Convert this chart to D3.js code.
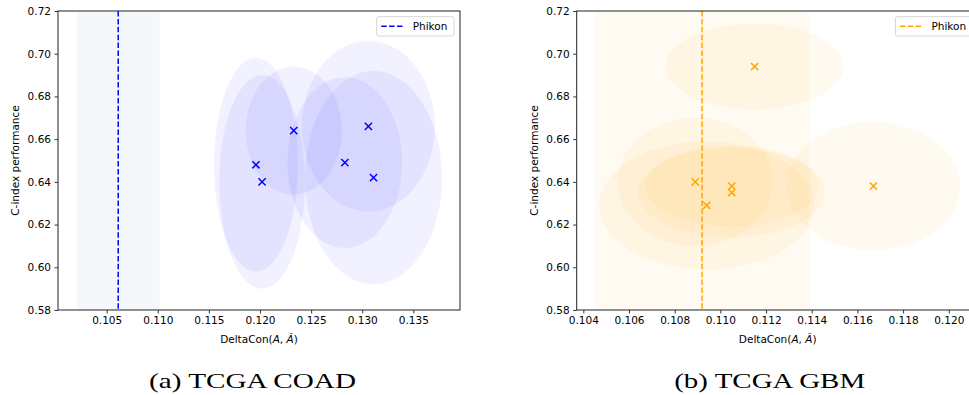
<!DOCTYPE html>
<html>
<head>
<meta charset="utf-8">
<script src="https://cdn.jsdelivr.net/npm/d3@7"></script>
<style>
  body { margin: 0; background: #fff; }
  svg { display: block; }
  .tick text { font-family: "DejaVu Sans", sans-serif; font-size: 10.5px; fill: #000; }
  .lbl { font-family: "DejaVu Sans", sans-serif; font-size: 10.5px; fill: #000; }
  .cap { font-family: "Liberation Serif", serif; font-size: 22px; fill: #000; }
</style>
</head>
<body>
<div id="chart"></div>
<script>
// ---- data ----
const yTicks = [0.58, 0.60, 0.62, 0.64, 0.66, 0.68, 0.70, 0.72];

// (a) TCGA COAD
const coadX    = [0.1196, 0.1202, 0.1233, 0.1283, 0.1306, 0.1311];
const coadY    = [0.648, 0.640, 0.664, 0.649, 0.666, 0.642];
const coadXerr = [0.0041, 0.0042, 0.0047, 0.0056, 0.0065, 0.0067];
const coadYerr = [0.050, 0.050, 0.030, 0.040, 0.040, 0.050];
const coadPhikon = 0.10613, coadPhikonErr = 0.00405;
const coadXTicks = [0.105, 0.110, 0.115, 0.120, 0.125, 0.130, 0.135];

// (b) TCGA GBM
const gbmX    = [0.1115, 0.1089, 0.1105, 0.1105, 0.1167, 0.1094];
const gbmY    = [0.694, 0.640, 0.638, 0.635, 0.638, 0.629];
const gbmXerr = [0.0039, 0.0034, 0.0038, 0.0041, 0.0038, 0.0047];
const gbmYerr = [0.020, 0.030, 0.019, 0.021, 0.030, 0.030];
const gbmPhikon = 0.1092, gbmPhikonErr = 0.0047;
const gbmXTicks = [0.104, 0.106, 0.108, 0.110, 0.112, 0.114, 0.116, 0.118, 0.120];

const W = 969, H = 395;
const svg = d3.select("#chart").append("svg")
    .attr("width", W).attr("height", H);

function panel(o) {
    const top = 11, bottom = 310;
    const x = d3.scaleLinear().domain(o.xdom).range([o.left, o.left + 402]);
    const y = d3.scaleLinear().domain([0.58, 0.72]).range([bottom, top]);
    const g = svg.append("g");

    const clipId = "clip_" + o.id;
    g.append("clipPath").attr("id", clipId)
      .append("rect").attr("x", o.left).attr("y", top).attr("width", 402).attr("height", bottom - top);
    const plot = g.append("g").attr("clip-path", `url(#${clipId})`);

    // phikon std band
    plot.append("rect")
        .attr("x", x(o.phikon - o.phikonErr))
        .attr("y", top)
        .attr("width", x(o.phikon + o.phikonErr) - x(o.phikon - o.phikonErr))
        .attr("height", bottom - top)
        .attr("fill", o.bandColor).attr("fill-opacity", 0.05);

    const pts = o.xs.map((v, i) => ({x: v, y: o.ys[i], ex: o.xerr[i], ey: o.yerr[i]}));

    // std ellipses
    plot.selectAll("ellipse").data(pts).enter().append("ellipse")
        .attr("cx", d => x(d.x)).attr("cy", d => y(d.y))
        .attr("rx", d => x(d.x + d.ex) - x(d.x))
        .attr("ry", d => y(d.y) - y(d.y + d.ey))
        .attr("fill", o.color).attr("fill-opacity", o.ellAlpha);

    // phikon line
    plot.append("line")
        .attr("x1", x(o.phikon)).attr("x2", x(o.phikon))
        .attr("y1", top).attr("y2", bottom)
        .attr("stroke", o.color).attr("stroke-width", 1.5)
        .attr("stroke-dasharray", "5.5,2.4");

    // x markers
    const s = 3.6;
    plot.selectAll(".pt").data(pts).enter().append("path")
        .attr("class", "pt")
        .attr("d", d => {
            const cx = x(d.x), cy = y(d.y);
            return `M${cx - s},${cy - s}L${cx + s},${cy + s}M${cx - s},${cy + s}L${cx + s},${cy - s}`;
        })
        .attr("stroke", o.color).attr("stroke-width", 1.5).attr("fill", "none");

    // axes
    g.append("g").attr("transform", `translate(0,${bottom})`)
        .call(d3.axisBottom(x).tickValues(o.xticks).tickFormat(d3.format(".3f")).tickSizeOuter(0).tickSize(3.5).tickPadding(3.5))
        .call(a => a.select(".domain").remove());
    g.append("g").attr("transform", `translate(${o.left},0)`)
        .call(d3.axisLeft(y).tickValues(yTicks).tickFormat(d3.format(".2f")).tickSizeOuter(0).tickSize(3.5).tickPadding(3.5))
        .call(a => a.select(".domain").remove());
    g.selectAll(".tick line").attr("stroke", "#000").attr("stroke-width", 0.8);

    // frame
    g.append("rect").attr("x", o.left).attr("y", top).attr("width", 402).attr("height", bottom - top)
        .attr("fill", "none").attr("stroke", "#222").attr("stroke-width", 1);

    // labels
    const xl = g.append("text").attr("class", "lbl")
        .attr("x", o.left + 201).attr("y", 343).attr("text-anchor", "middle");
    xl.append("tspan").text("DeltaCon(");
    xl.append("tspan").attr("font-style", "italic").text("A");
    xl.append("tspan").text(", ");
    xl.append("tspan").attr("font-style", "italic").text("Ã");
    xl.append("tspan").text(")");

    g.append("text").attr("class", "lbl")
        .attr("transform", `translate(${o.left - 39},${(top + bottom) / 2}) rotate(-90)`)
        .attr("text-anchor", "middle").text("C-index performance");

    // legend
    const lx = o.left + 402 - 6 - 77.3, ly = top + 5.7;
    g.append("rect").attr("x", lx).attr("y", ly).attr("width", 77.3).attr("height", 19.3)
        .attr("rx", 2).attr("fill", "#fff").attr("fill-opacity", 0.8)
        .attr("stroke", "#ccc").attr("stroke-width", 0.8);
    g.append("line").attr("x1", lx + 4.5).attr("x2", lx + 26.5).attr("y1", ly + 9.6).attr("y2", ly + 9.6)
        .attr("stroke", o.color).attr("stroke-width", 1.5).attr("stroke-dasharray", "5.5,2.4");
    g.append("text").attr("class", "lbl").attr("x", lx + 36).attr("y", ly + 13.4).text("Phikon");

    // caption
    svg.append("text").attr("class", "cap")
        .attr("x", o.capX).attr("y", 388).attr("text-anchor", "middle")
        .attr("textLength", o.capW).attr("lengthAdjust", "spacingAndGlyphs")
        .text(o.caption);
}

panel({id: "coad", left: 58, xdom: [0.10024, 0.13956], xs: coadX, ys: coadY, xerr: coadXerr, yerr: coadYerr,
       phikon: coadPhikon, phikonErr: coadPhikonErr, xticks: coadXTicks,
       color: "#0000ff", bandColor: "#1f77b4", ellAlpha: 0.055,
       caption: "(a) TCGA COAD", capX: 252.5, capW: 207});
panel({id: "gbm", left: 576.7, xdom: [0.10371, 0.12131], xs: gbmX, ys: gbmY, xerr: gbmXerr, yerr: gbmYerr,
       phikon: gbmPhikon, phikonErr: gbmPhikonErr, xticks: gbmXTicks,
       color: "#ffa500", bandColor: "#ffa500", ellAlpha: 0.06,
       caption: "(b) TCGA GBM", capX: 769.7, capW: 191});
</script>
</body>
</html>
